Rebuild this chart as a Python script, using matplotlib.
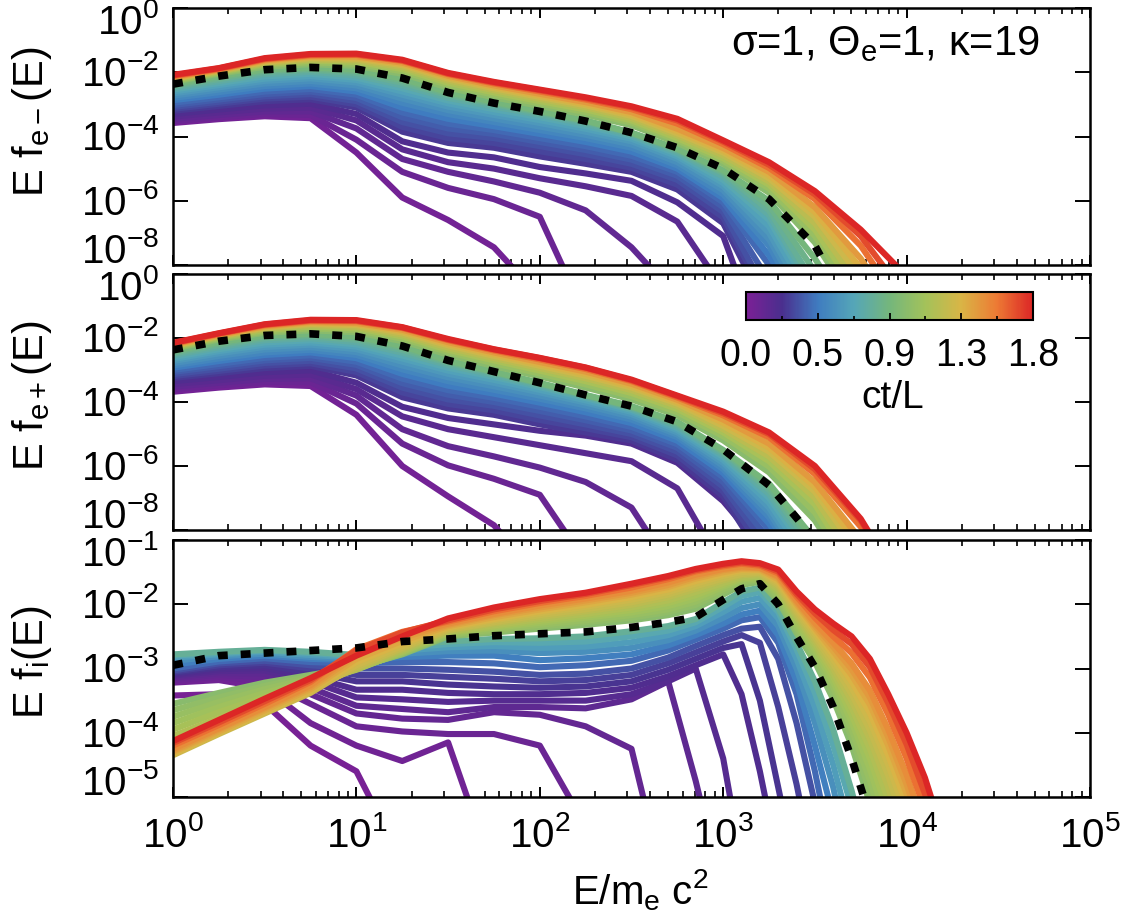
# Espectros de energia E f(E) para electrones, positrones e iones
# en varios instantes ct/L (colores) y un instante destacado (punteado)

import numpy as np
import matplotlib
matplotlib.use('Agg')
import matplotlib.pyplot as plt
from matplotlib.colors import LinearSegmentedColormap, Normalize
from matplotlib.cm import ScalarMappable
from matplotlib.ticker import FixedLocator, FixedFormatter, LogLocator, NullLocator
from matplotlib.transforms import blended_transform_factory, offset_copy

# Fuentes

fuente = 'Liberation Sans'
plt.rcParams['font.family'] = [fuente, 'DejaVu Sans']
plt.rcParams['mathtext.fontset'] = 'custom'
plt.rcParams['mathtext.rm'] = fuente
plt.rcParams['mathtext.it'] = fuente + ':italic'
plt.rcParams['mathtext.bf'] = fuente + ':bold'

# Datos (log10 de E/me c^2 y log10 de E f(E))

lgE_lep = [0, 0.25, 0.5, 0.75, 1.0, 1.25, 1.5, 1.75, 2.0, 2.25, 2.5, 2.75, 3.0, 3.25, 3.5, 3.75, 4.0]

t_lep = [0.04, 0.08, 0.12, 0.16, 0.2, 0.26, 0.29, 0.33, 0.365, 0.4,
         0.45, 0.5, 0.55, 0.6, 0.65, 0.7, 0.75, 0.8, 0.85, 0.9,
         1.0, 1.07, 1.15, 1.22, 1.3, 1.37, 1.45, 1.6, 1.7, 1.8]

elec = [
    [-3.58, -3.46, -3.37, -3.43, -4.5, -5.9, -6.6, -7.45, -9.0],
    [-3.52, -3.4, -3.3, -3.33, -4.1, -5.1, -5.6, -5.95, -6.5, -9.6],
    [-3.45, -3.33, -3.22, -3.22, -3.75, -4.7, -5.1, -5.4, -5.75, -6.3, -7.45, -9.0],
    [-3.38, -3.25, -3.13, -3.1, -3.5, -4.4, -4.8, -5.0, -5.3, -5.55, -5.85, -6.65, -8.75],
    [-3.3, -3.16, -3.03, -2.98, -3.3, -4.15, -4.5, -4.65, -4.95, -5.15, -5.38, -6.05, -7.1, -11],
    [-3.2, -3.05, -2.9, -2.84, -3.1, -3.85, -4.2, -4.35, -4.62, -4.85, -5.1, -5.65, -6.7, -9.5],
    [-3.14, -2.98, -2.82, -2.76, -3.0, -3.7, -4.05, -4.2, -4.46, -4.7, -4.97, -5.5, -6.52, -9.2],
    [-3.08, -2.92, -2.75, -2.68, -2.9, -3.55, -3.9, -4.05, -4.3, -4.55, -4.85, -5.35, -6.35, -9.0],
    [-3.02, -2.85, -2.68, -2.6, -2.8, -3.4, -3.75, -3.92, -4.17, -4.42, -4.72, -5.22, -6.2, -8.5, -10.5],
    [-2.95, -2.78, -2.6, -2.52, -2.7, -3.25, -3.6, -3.8, -4.05, -4.3, -4.6, -5.1, -6.05, -8.0, -10],
    [-2.87, -2.7, -2.51, -2.43, -2.6, -3.1, -3.45, -3.68, -3.92, -4.17, -4.47, -5.0, -5.92, -7.7, -10],
    [-2.8, -2.62, -2.43, -2.35, -2.5, -2.95, -3.3, -3.55, -3.8, -4.05, -4.35, -4.9, -5.8, -7.4, -10],
    [-2.73, -2.54, -2.35, -2.27, -2.41, -2.82, -3.18, -3.44, -3.69, -3.95, -4.25, -4.8, -5.67, -7.2, -9.7],
    [-2.66, -2.47, -2.27, -2.19, -2.32, -2.7, -3.07, -3.33, -3.58, -3.85, -4.15, -4.7, -5.55, -7.0, -9.5],
    [-2.6, -2.4, -2.2, -2.12, -2.24, -2.6, -2.97, -3.24, -3.49, -3.76, -4.07, -4.62, -5.45, -6.8, -9.25],
    [-2.54, -2.34, -2.13, -2.05, -2.17, -2.5, -2.88, -3.15, -3.4, -3.68, -4.0, -4.55, -5.35, -6.6, -9.0],
    [-2.49, -2.28, -2.06, -1.99, -2.1, -2.41, -2.8, -3.07, -3.33, -3.61, -3.95, -4.49, -5.25, -6.45, -8.8],
    [-2.44, -2.22, -2.0, -1.93, -2.03, -2.33, -2.72, -3.0, -3.27, -3.55, -3.9, -4.43, -5.15, -6.3, -8.6],
    [-2.4, -2.17, -1.95, -1.89, -1.97, -2.26, -2.67, -2.96, -3.23, -3.52, -3.89, -4.4, -5.1, -6.15, -8.2, -10.5],
    [-2.36, -2.12, -1.91, -1.85, -1.92, -2.2, -2.62, -2.92, -3.2, -3.5, -3.88, -4.38, -5.05, -6.0, -7.8, -10],
    [-2.3, -2.05, -1.83, -1.75, -1.8, -2.05, -2.48, -2.78, -3.05, -3.32, -3.65, -4.2, -4.85, -5.75, -7.3, -9.5],
    [-2.27, -2.02, -1.78, -1.69, -1.74, -1.97, -2.4, -2.7, -2.97, -3.24, -3.57, -4.12, -4.76, -5.62, -7.1, -9.25],
    [-2.24, -1.99, -1.74, -1.64, -1.68, -1.9, -2.33, -2.63, -2.9, -3.16, -3.5, -4.05, -4.68, -5.5, -6.9, -9.0],
    [-2.21, -1.97, -1.71, -1.6, -1.63, -1.84, -2.26, -2.56, -2.83, -3.09, -3.43, -3.97, -4.59, -5.4, -6.7, -8.7],
    [-2.19, -1.95, -1.68, -1.56, -1.58, -1.78, -2.2, -2.5, -2.77, -3.03, -3.36, -3.9, -4.5, -5.3, -6.5, -8.4],
    [-2.17, -1.93, -1.65, -1.53, -1.54, -1.74, -2.15, -2.45, -2.72, -2.98, -3.3, -3.83, -4.43, -5.2, -6.35, -8.1, -10.5],
    [-2.15, -1.92, -1.63, -1.5, -1.51, -1.7, -2.11, -2.41, -2.67, -2.93, -3.24, -3.76, -4.36, -5.1, -6.2, -7.8, -10],
    [-2.12, -1.9, -1.6, -1.47, -1.46, -1.65, -2.06, -2.35, -2.6, -2.85, -3.15, -3.6, -4.24, -4.98, -5.95, -7.4, -9.5],
    [-2.1, -1.88, -1.58, -1.45, -1.44, -1.63, -2.04, -2.32, -2.56, -2.81, -3.09, -3.5, -4.16, -4.88, -5.8, -7.1, -9.0],
    [-2.08, -1.87, -1.56, -1.43, -1.42, -1.61, -2.02, -2.3, -2.54, -2.78, -3.06, -3.45, -4.12, -4.8, -5.7, -6.9, -8.35],
]
elec_punteada = [-2.37, -2.12, -1.92, -1.85, -1.9, -2.18, -2.63, -2.96, -3.22, -3.52,
                 -3.88, -4.35, -5.0, -5.95, -7.4, -10]

posi = [
    [-3.68, -3.55, -3.45, -3.5, -4.4, -6.0, -6.95, -7.85, -9.5],
    [-3.6, -3.48, -3.37, -3.38, -4.05, -5.3, -5.98, -6.4, -6.9, -9.0],
    [-3.52, -3.4, -3.28, -3.26, -3.8, -4.85, -5.38, -5.7, -6.05, -6.5, -7.3, -9.5],
    [-3.44, -3.32, -3.18, -3.14, -3.6, -4.45, -4.85, -5.1, -5.35, -5.6, -5.85, -6.7, -9.2],
    [-3.35, -3.22, -3.07, -3.01, -3.4, -4.15, -4.5, -4.7, -4.9, -5.05, -5.3, -5.9, -7.1, -8.8],
    [-3.25, -3.1, -2.94, -2.87, -3.17, -3.85, -4.2, -4.4, -4.7, -4.95, -5.2, -5.8, -6.95, -9.2],
    [-3.19, -3.03, -2.86, -2.79, -3.06, -3.7, -4.06, -4.26, -4.56, -4.82, -5.1, -5.67, -6.8, -8.9],
    [-3.13, -2.96, -2.78, -2.71, -2.95, -3.55, -3.92, -4.12, -4.42, -4.7, -5.0, -5.55, -6.65, -8.6],
    [-3.06, -2.88, -2.7, -2.62, -2.84, -3.41, -3.77, -4.0, -4.28, -4.57, -4.89, -5.43, -6.5, -8.3, -10],
    [-3.0, -2.81, -2.62, -2.54, -2.74, -3.27, -3.63, -3.87, -4.15, -4.45, -4.78, -5.32, -6.35, -8.0, -10],
    [-2.93, -2.72, -2.53, -2.45, -2.63, -3.12, -3.49, -3.74, -4.02, -4.32, -4.66, -5.21, -6.22, -7.8, -9.9],
    [-2.86, -2.64, -2.45, -2.37, -2.53, -2.98, -3.35, -3.62, -3.9, -4.2, -4.55, -5.1, -6.1, -7.6, -9.8],
    [-2.79, -2.56, -2.36, -2.29, -2.44, -2.86, -3.23, -3.51, -3.8, -4.11, -4.46, -5.02, -6.0, -7.45, -9.65],
    [-2.72, -2.48, -2.28, -2.21, -2.35, -2.74, -3.12, -3.4, -3.7, -4.02, -4.38, -4.95, -5.9, -7.3, -9.5],
    [-2.66, -2.41, -2.21, -2.14, -2.27, -2.64, -3.02, -3.31, -3.62, -3.95, -4.31, -4.88, -5.81, -7.15, -9.25],
    [-2.6, -2.35, -2.14, -2.07, -2.2, -2.55, -2.93, -3.22, -3.54, -3.88, -4.25, -4.82, -5.72, -7.0, -9.0],
    [-2.54, -2.29, -2.07, -2.01, -2.13, -2.46, -2.85, -3.16, -3.49, -3.84, -4.21, -4.76, -5.65, -6.88, -8.8],
    [-2.49, -2.23, -2.01, -1.95, -2.06, -2.38, -2.78, -3.1, -3.44, -3.8, -4.17, -4.7, -5.58, -6.75, -8.6],
    [-2.44, -2.18, -1.96, -1.91, -2.0, -2.31, -2.74, -3.07, -3.42, -3.79, -4.15, -4.66, -5.54, -6.65, -8.45],
    [-2.4, -2.13, -1.92, -1.87, -1.95, -2.25, -2.7, -3.05, -3.4, -3.78, -4.13, -4.62, -5.5, -6.55, -8.3],
    [-2.34, -2.05, -1.84, -1.76, -1.82, -2.1, -2.52, -2.88, -3.2, -3.55, -3.92, -4.42, -5.2, -6.2, -7.7, -10],
    [-2.31, -2.01, -1.8, -1.7, -1.76, -2.02, -2.44, -2.79, -3.11, -3.45, -3.82, -4.32, -5.07, -6.02, -7.45, -9.75],
    [-2.28, -1.98, -1.75, -1.65, -1.7, -1.95, -2.37, -2.7, -3.02, -3.35, -3.72, -4.22, -4.95, -5.85, -7.2, -9.5],
    [-2.26, -1.95, -1.71, -1.6, -1.65, -1.89, -2.3, -2.63, -2.94, -3.26, -3.63, -4.13, -4.85, -5.7, -7.0, -9.15],
    [-2.24, -1.93, -1.68, -1.56, -1.6, -1.83, -2.23, -2.56, -2.87, -3.18, -3.55, -4.05, -4.75, -5.55, -6.8, -8.8],
    [-2.22, -1.91, -1.65, -1.53, -1.56, -1.78, -2.18, -2.5, -2.81, -3.11, -3.49, -3.99, -4.65, -5.42, -6.65, -8.55, -10],
    [-2.2, -1.9, -1.63, -1.5, -1.53, -1.74, -2.13, -2.45, -2.75, -3.05, -3.43, -3.93, -4.55, -5.3, -6.5, -8.3, -10],
    [-2.18, -1.87, -1.6, -1.47, -1.48, -1.69, -2.07, -2.39, -2.67, -2.97, -3.35, -3.86, -4.42, -5.1, -6.25, -7.9, -10],
    [-2.16, -1.86, -1.58, -1.45, -1.46, -1.67, -2.05, -2.36, -2.63, -2.93, -3.32, -3.82, -4.35, -5.0, -6.1, -7.7, -10],
    [-2.15, -1.85, -1.57, -1.43, -1.44, -1.66, -2.03, -2.35, -2.62, -2.92, -3.3, -3.8, -4.3, -4.95, -6.0, -7.65, -10],
]
posi_punteada = [-2.37, -2.1, -1.92, -1.87, -1.95, -2.25, -2.7, -3.05, -3.4, -3.78,
                 -4.13, -4.62, -5.48, -6.6, -8.3]

lgE_ion = [0, 0.25, 0.5, 0.75, 1.0, 1.25, 1.5, 1.75, 2.0, 2.25, 2.5, 2.7, 2.85,
           3.0, 3.1, 3.2, 3.3, 3.4, 3.5, 3.6, 3.7, 3.8, 3.9, 4.0, 4.1, 4.2]

t_ion = [0.02, 0.05, 0.08, 0.11, 0.14, 0.17, 0.2, 0.24, 0.28, 0.33, 0.4, 0.47, 0.55,
         0.63, 0.71, 0.8, 1.0, 1.035, 1.07, 1.105, 1.14, 1.18, 1.22, 1.26, 1.3, 1.35,
         1.4, 1.45, 1.5, 1.6, 1.7, 1.8]

ion = [
    [-3.42, -3.4, -3.55, -4.2, -4.6, -6.0],
    [-3.22, -3.18, -3.3, -3.85, -4.2, -4.44, -4.15, -6.2],
    [-3.18, -3.13, -3.2, -3.55, -3.9, -3.98, -4.02, -4.02, -4.2, -5.45],
    [-3.15, -3.1, -3.13, -3.4, -3.7, -3.78, -3.8, -3.68, -3.72, -3.9, -4.25, -6.6],
    [-3.13, -3.07, -3.08, -3.3, -3.58, -3.63, -3.68, -3.6, -3.6, -3.62, -3.48, -3.2, -4.75, -6.5],
    [-3.11, -3.04, -3.03, -3.2, -3.45, -3.48, -3.52, -3.5, -3.5, -3.5, -3.4, -3.2, -3.0, -4.4, -6.0],
    [-3.09, -3.01, -2.99, -3.13, -3.33, -3.33, -3.38, -3.4, -3.4, -3.38, -3.3, -3.12, -2.95, -2.78,
     -3.4, -4.6, -6.0],
    [-3.07, -2.98, -2.95, -3.06, -3.2, -3.2, -3.25, -3.28, -3.3, -3.28, -3.2, -3.02, -2.85, -2.68,
     -2.62, -3.5, -4.85, -6.2],
    [-3.05, -2.95, -2.91, -3.0, -3.1, -3.1, -3.13, -3.16, -3.2, -3.18, -3.1, -2.92, -2.75, -2.58,
     -2.48, -2.6, -3.6, -4.8, -6.2],
    [-3.03, -2.92, -2.88, -2.95, -3.0, -3.0, -3.02, -3.05, -3.1, -3.08, -3.0, -2.83, -2.65, -2.48,
     -2.38, -2.35, -2.85, -3.85, -5.1, -6.5],
    [-3.0, -2.89, -2.84, -2.9, -2.92, -2.9, -2.9, -2.92, -2.98, -2.95, -2.88, -2.72, -2.55, -2.38,
     -2.25, -2.2, -2.6, -3.4, -4.6, -6.0],
    [-2.94, -2.85, -2.8, -2.85, -2.87, -2.82, -2.8, -2.8, -2.87, -2.84, -2.78, -2.64, -2.48, -2.3,
     -2.16, -2.1, -2.48, -3.2, -4.2, -5.3, -6.5],
    [-2.88, -2.81, -2.77, -2.82, -2.85, -2.77, -2.73, -2.72, -2.76, -2.74, -2.68, -2.56, -2.41, -2.21,
     -2.06, -2.0, -2.34, -3.0, -3.85, -4.85, -6.2],
    [-2.83, -2.78, -2.74, -2.79, -2.83, -2.72, -2.67, -2.65, -2.68, -2.66, -2.59, -2.48, -2.34, -2.12,
     -1.96, -1.9, -2.22, -2.85, -3.6, -4.5, -5.6],
    [-2.8, -2.76, -2.72, -2.76, -2.81, -2.68, -2.62, -2.59, -2.6, -2.58, -2.5, -2.41, -2.28, -2.04,
     -1.87, -1.81, -2.12, -2.7, -3.38, -4.2, -5.15, -6.2],
    [-2.78, -2.74, -2.71, -2.74, -2.79, -2.64, -2.58, -2.54, -2.53, -2.5, -2.42, -2.34, -2.23, -1.97,
     -1.8, -1.74, -2.06, -2.6, -3.2, -3.95, -4.9, -6.0],
    [-3.55, -3.38, -3.22, -3.1, -2.98, -2.78, -2.5, -2.44, -2.38, -2.32, -2.25, -2.17, -2.07, -1.85,
     -1.7, -1.65, -1.95, -2.45, -2.9, -3.48, -4.2, -5.1, -6.2],
    [-3.65, -3.45, -3.27, -3.12, -2.99, -2.77, -2.48, -2.42, -2.35, -2.28, -2.21, -2.12, -2.01, -1.81,
     -1.67, -1.63, -1.91, -2.4, -2.84, -3.39, -4.07, -4.92, -5.95],
    [-3.75, -3.52, -3.32, -3.15, -3.0, -2.76, -2.47, -2.4, -2.32, -2.25, -2.17, -2.08, -1.96, -1.77,
     -1.65, -1.61, -1.87, -2.35, -2.78, -3.3, -3.95, -4.75, -5.7],
    [-3.85, -3.6, -3.38, -3.18, -3.01, -2.75, -2.45, -2.37, -2.29, -2.21, -2.13, -2.03, -1.91, -1.73,
     -1.62, -1.59, -1.83, -2.3, -2.72, -3.22, -3.83, -4.57, -5.47, -6.5],
    [-3.95, -3.68, -3.44, -3.22, -3.02, -2.74, -2.44, -2.35, -2.26, -2.18, -2.09, -1.98, -1.86, -1.7,
     -1.6, -1.57, -1.8, -2.25, -2.66, -3.14, -3.72, -4.4, -5.25, -6.3],
    [-4.05, -3.77, -3.5, -3.26, -3.01, -2.72, -2.43, -2.33, -2.23, -2.15, -2.05, -1.94, -1.81, -1.67,
     -1.58, -1.55, -1.77, -2.2, -2.61, -3.07, -3.61, -4.25, -5.05, -6.05],
    [-4.15, -3.85, -3.57, -3.3, -3.0, -2.7, -2.41, -2.3, -2.2, -2.11, -2.01, -1.89, -1.76, -1.63,
     -1.55, -1.53, -1.73, -2.16, -2.56, -3.0, -3.5, -4.1, -4.85, -5.8],
    [-4.25, -3.93, -3.63, -3.34, -2.98, -2.68, -2.4, -2.28, -2.17, -2.08, -1.97, -1.85, -1.72, -1.6,
     -1.53, -1.51, -1.7, -2.12, -2.51, -2.93, -3.4, -3.96, -4.67, -5.55],
    [-4.35, -4.02, -3.7, -3.38, -2.95, -2.65, -2.38, -2.25, -2.14, -2.04, -1.93, -1.81, -1.68, -1.56,
     -1.5, -1.49, -1.67, -2.08, -2.46, -2.86, -3.3, -3.82, -4.5, -5.3],
    [-4.33, -4.0, -3.68, -3.35, -2.9, -2.61, -2.36, -2.23, -2.11, -2.01, -1.89, -1.77, -1.64, -1.53,
     -1.47, -1.47, -1.64, -2.04, -2.41, -2.79, -3.2, -3.69, -4.35, -5.12, -6.0],
    [-4.3, -3.98, -3.65, -3.32, -2.85, -2.57, -2.34, -2.2, -2.08, -1.97, -1.85, -1.73, -1.6, -1.5,
     -1.45, -1.46, -1.61, -2.0, -2.37, -2.73, -3.1, -3.56, -4.2, -4.95, -5.8],
    [-4.28, -3.95, -3.62, -3.29, -2.8, -2.52, -2.32, -2.17, -2.05, -1.94, -1.82, -1.7, -1.57, -1.47,
     -1.43, -1.44, -1.58, -1.97, -2.33, -2.66, -3.01, -3.45, -4.07, -4.8, -5.65],
    [-4.25, -3.93, -3.6, -3.26, -2.75, -2.48, -2.3, -2.15, -2.02, -1.91, -1.79, -1.66, -1.54, -1.45,
     -1.41, -1.43, -1.56, -1.94, -2.29, -2.6, -2.92, -3.34, -3.95, -4.65, -5.5],
    [-4.2, -3.88, -3.55, -3.21, -2.7, -2.43, -2.27, -2.11, -1.98, -1.87, -1.74, -1.61, -1.49, -1.41,
     -1.37, -1.4, -1.52, -1.88, -2.21, -2.5, -2.76, -3.14, -3.72, -4.4, -5.2],
    [-4.16, -3.84, -3.51, -3.18, -2.72, -2.44, -2.25, -2.08, -1.95, -1.84, -1.7, -1.58, -1.47, -1.39,
     -1.35, -1.38, -1.49, -1.84, -2.14, -2.4, -2.62, -2.98, -3.54, -4.18, -4.95, -5.8],
    [-4.13, -3.8, -3.47, -3.15, -2.8, -2.5, -2.22, -2.05, -1.92, -1.82, -1.68, -1.56, -1.45, -1.37,
     -1.33, -1.36, -1.46, -1.8, -2.08, -2.3, -2.5, -2.85, -3.4, -4.0, -4.7, -5.6],
]
ion_punteada = [-2.95, -2.8, -2.76, -2.72, -2.68, -2.58, -2.54, -2.49, -2.46, -2.43, -2.36,
                -2.28, -2.2, -1.93, -1.76, -1.68, -2.0, -2.51, -2.98, -3.6, -4.4, -5.3]

# Colores

colores = ['#7b2096', '#4a2f8e', '#3f7cc0', '#55a6b8', '#74b67c',
           '#a3c25a', '#d9b546', '#ed7a34', '#dc2626']
cmap = LinearSegmentedColormap.from_list('tiempo', colores)
norm = Normalize(0, 1.8)

# Figura

W, H = 1146, 917
fig = plt.figure(figsize=(W / 100, H / 100), dpi=100)

izq, der = 173, 1090
paneles = [(8, 265), (274, 530), (540, 797)]
axes = []
for (arriba, abajo) in paneles:
    ax = fig.add_axes([izq / W, 1 - abajo / H, (der - izq) / W, (abajo - arriba) / H])
    axes.append(ax)
ax1, ax2, ax3 = axes


def dibujar(ax, lgE, curvas, tiempos, punteada):
    for fila, t in zip(curvas, tiempos):
        n = len(fila)
        ax.plot(10 ** np.array(lgE[:n]), 10 ** np.array(fila), color=cmap(norm(t)),
                lw=4.4, solid_joinstyle='round', solid_capstyle='butt')
    n = len(punteada)
    ax.plot(10 ** np.array(lgE[:n]), 10 ** np.array(punteada), color='k', lw=5.5,
            linestyle=(0, (1.3, 1.7)), dash_capstyle='butt')


dibujar(ax1, lgE_lep, elec, t_lep, elec_punteada)
dibujar(ax2, lgE_lep, posi, t_lep, posi_punteada)
dibujar(ax3, lgE_ion, ion, t_ion, ion_punteada)

# Ejes

yt_lep = [0, -2, -4, -6, -8]
yt_ion = [-1, -2, -3, -4, -5]
limites = [(1e-8, 1), (1e-8, 1), (1e-5, 1e-1)]
yticks = [yt_lep, yt_lep, yt_ion]
tam = 29

for ax, lim, yt in zip(axes, limites, yticks):
    ax.set_xscale('log')
    ax.set_yscale('log')
    ax.set_xlim(1, 1e5)
    ax.set_ylim(*lim)
    ax.xaxis.set_major_locator(FixedLocator([10.0 ** k for k in range(6)]))
    ax.xaxis.set_minor_locator(LogLocator(base=10, subs=np.arange(2, 10), numticks=20))
    ax.yaxis.set_major_locator(FixedLocator([10.0 ** k for k in yt]))
    ax.yaxis.set_minor_locator(NullLocator())
    ax.tick_params(axis='x', which='major', direction='in', length=7, width=1.4,
                   top=True, bottom=True, labelbottom=False)
    ax.tick_params(axis='x', which='minor', direction='in', length=4.5, width=1.2,
                   top=True, bottom=True)
    ax.tick_params(axis='y', which='major', direction='in', length=11, width=1.4,
                   left=True, right=True, labelleft=False)
    for s in ax.spines.values():
        s.set_linewidth(1.8)

    # etiquetas del eje y, las de los extremos se meten hacia dentro
    trans = blended_transform_factory(ax.transAxes, ax.transData)
    for i, k in enumerate(yt):
        dy = -14
        if i == 0:
            dy = -26
        elif i == len(yt) - 1:
            dy = 2
        tr = offset_copy(trans, fig=fig, x=-14, y=dy, units='dots')
        ax.text(0, 10.0 ** k, r'$\mathregular{10^{%d}}$' % k, transform=tr,
                ha='right', va='baseline', fontsize=tam)

ax3.xaxis.set_major_formatter(FixedFormatter([r'$\mathregular{10^{%d}}$' % k for k in range(6)]))
ax3.tick_params(axis='x', which='major', labelbottom=True, labelsize=tam, pad=14)

# Textos

ax1.text(0.945, 0.815, r'σ=1, Θ$_\mathregular{e}$=1, κ=19', transform=ax1.transAxes,
         ha='right', va='baseline', fontsize=30)

fig.text(32 / W, 1 - 122 / H, r'E f$_\mathregular{e-}$(E)', rotation=90,
         ha='center', va='center', fontsize=30)
fig.text(32 / W, 1 - 396 / H, r'E f$_\mathregular{e+}$(E)', rotation=90,
         ha='center', va='center', fontsize=30)
fig.text(32 / W, 1 - 662 / H, r'E f$_\mathregular{i}$(E)', rotation=90,
         ha='center', va='center', fontsize=30)
fig.text(640 / W, 1 - 890 / H, r'E/m$_\mathregular{e}$ c$^\mathregular{2}$',
         ha='center', va='center', fontsize=tam)

# Barra de color

cax = fig.add_axes([746 / W, 1 - 320 / H, 287 / W, 28 / H])
cb = fig.colorbar(ScalarMappable(norm=norm, cmap=cmap), cax=cax, orientation='horizontal')
cb.set_ticks([0, 0.45, 0.9, 1.35, 1.8])
cb.set_ticklabels(['0.0', '0.5', '0.9', '1.3', '1.8'])
cax.xaxis.set_minor_locator(FixedLocator([0.225, 0.675, 1.125, 1.575]))
cax.tick_params(which='major', direction='in', length=5, width=1.3, labelsize=27, pad=13,
                bottom=True, top=False)
cax.tick_params(which='minor', direction='in', length=3, width=1.2, bottom=True, top=False)
cb.outline.set_linewidth(1.5)
fig.text(893 / W, 1 - 398 / H, 'ct/L', ha='center', va='center', fontsize=28)

fig.savefig('out.png', dpi=100)
